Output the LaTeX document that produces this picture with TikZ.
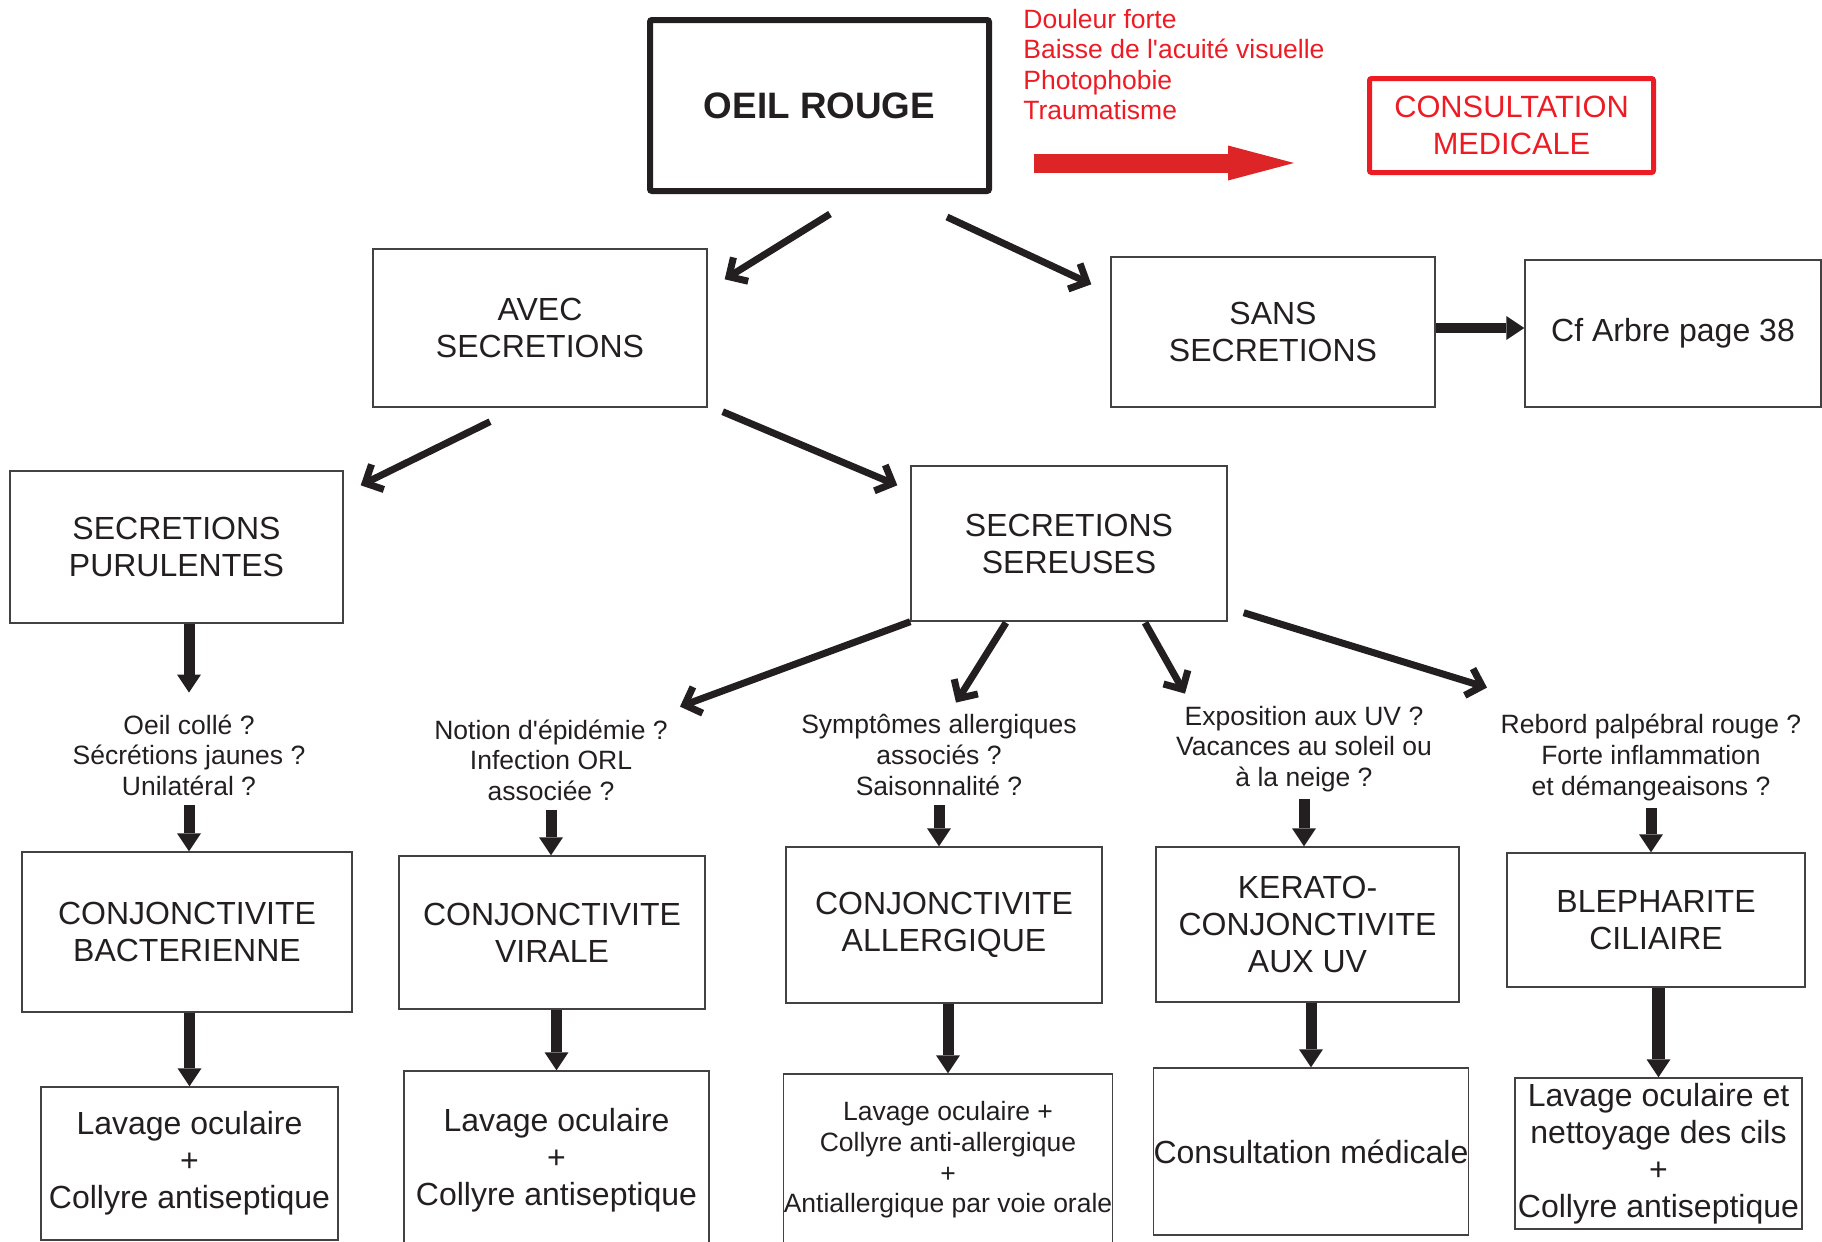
\documentclass[tikz,border=0pt]{standalone}
\usepackage{fontspec}
\setmainfont{Liberation Sans}
\usetikzlibrary{calc}
\usetikzlibrary{arrows.meta}
\definecolor[named]{EyeInk}{RGB}{35,31,32}
\definecolor[named]{EyeRed}{RGB}{237,28,36}
\definecolor[named]{EyeArrowRed}{RGB}{221,36,39}
\newcommand{\boxfont}{\fontsize{16}{18.5}\selectfont}
\newcommand{\askfont}{\fontsize{13.25}{15.3}\selectfont}
\newcommand{\apos}{\textquotesingle}
\tikzset{
  box/.style 2 args={draw=EyeInk!85,line width=0.7pt,text=EyeInk,
    minimum width=#1,minimum height=#2,inner sep=0pt,align=center,
    font=\boxfont},
  ask/.style={text=EyeInk,align=center,inner sep=0pt,
    minimum height=50pt,font=\askfont},
  branch/.style={draw=EyeInk,line width=3.5pt,
    -{Straight Barb[length=7pt,width=14pt,sharp]}},
  downarrow/.style={draw=EyeInk,line width=5.5pt,
    -{Triangle[length=9pt,width=12pt,line width=0pt]}},
}

\begin{document}
\begin{tikzpicture}[x=0.5pt,y=-0.5pt]
  \useasboundingbox (0,0) rectangle (1822,1242);

  % Top {{{
  \node[box={169.5pt}{85.5pt},line width=3pt,draw=EyeInk,rounded corners=1pt,
    font=\fontsize{18.4}{22}\selectfont\bfseries] (oeil) at (819.5,105.5) {OEIL ROUGE};
  \node[anchor=west,align=left,inner sep=0pt,text=EyeRed,font=\askfont]
    (signes) at (1023,64.5)
    {Douleur forte\\Baisse de l\apos acuité visuelle\\Photophobie\\Traumatisme};
  \node[box={142pt}{47pt},line width=2.5pt,draw=EyeRed,text=EyeRed,rounded corners=1pt,
    font=\fontsize{15.4}{18.5}\selectfont] (consult) at (1511.5,125.5) {CONSULTATION\\MEDICALE};
  \draw[EyeArrowRed,line width=9.5pt,-{Triangle[length=33pt,width=17.5pt,line width=0pt]}]
    ($(oeil.east)+(42,57.5)$) -- ($(consult.west)+(-73,37.5)$);
  % }}}

  % Secretions {{{
  \node[box={167pt}{79pt}] (avec) at (540,328) {AVEC\\SECRETIONS};
  \node[box={162pt}{75pt}] (sans) at (1273,332) {SANS\\SECRETIONS};
  \node[box={148pt}{73.5pt}] (cf) at (1673,333.5) {Cf Arbre page 38};
  \node[box={166.5pt}{76pt}] (purul) at (176.5,547) {SECRETIONS\\PURULENTES};
  \node[box={158pt}{77.5pt}] (sereuses) at (1069,543.5) {SECRETIONS\\SEREUSES};
  % }}}

  % Questions {{{
  \node[ask] (q1) at (189,755) {Oeil collé ?\\Sécrétions jaunes ?\\Unilatéral ?};
  \node[ask] (q2) at (551,760) {Notion d\apos épidémie ?\\Infection ORL\\associée ?};
  \node[ask] (q3) at (939,755) {Symptômes allergiques\\associés ?\\Saisonnalité ?};
  \node[ask] (q4) at (1304,749) {Exposition aux UV ?\\Vacances au soleil ou\\à la neige ?};
  \node[ask] (q5) at (1651,757.5) {Rebord palpébral rouge ?\\Forte inflammation\\et démangeaisons ?};
  % }}}

  % Diagnoses and treatments {{{
  \node[box={165pt}{80pt}] (bact) at (187,932) {CONJONCTIVITE\\BACTERIENNE};
  \node[box={153pt}{76.5pt}] (virale) at (552,932.5) {CONJONCTIVITE\\VIRALE};
  \node[box={158pt}{78pt}] (allerg) at (944,925) {CONJONCTIVITE\\ALLERGIQUE};
  \node[box={151.5pt}{77.5pt}] (kerato) at (1307.5,924.5) {KERATO-\\CONJONCTIVITE\\AUX UV};
  \node[box={149pt}{67pt}] (bleph) at (1656,920) {BLEPHARITE\\CILIAIRE};

  \node[box={148.5pt}{76.5pt}] (soin1) at (189.5,1163.5) {Lavage oculaire\\+\\Collyre antiseptique};
  \node[box={152.5pt}{89.5pt}] (soin2) at (556.5,1160.5) {Lavage oculaire\\+\\Collyre antiseptique};
  \node[box={164pt}{86pt},font=\askfont] (soin3) at (948,1160)
    {Lavage oculaire +\\Collyre anti-allergique\\+\\Antiallergique par voie orale};
  \node[box={155pt}{83.5pt}] (soin4) at (1311,1151.5) {Consultation médicale};
  \node[box={143.5pt}{75.5pt}] (soin5) at (1658.5,1153.5)
    {Lavage oculaire et\\nettoyage des cils\\+\\Collyre antiseptique};
  % }}}

  % Arrows {{{
  \draw[branch] ($(oeil.south)+(10.5,20)$) -- ($(avec.north east)+(17,31)$);
  \draw[branch] ($(oeil.south)+(127.5,23)$) -- ($(sans.north west)+(-19,28)$);
  \draw[branch] ($(avec.south)+(-50,14)$) -- ($(purul.north east)+(17,15)$);
  \draw[branch] ($(avec.south east)+(15,4)$) -- ($(sereuses.north west)+(-13,20)$);
  \draw[branch] (sereuses.south west) -- ($(q2.north)+(129,-3)$);
  \draw[branch] ($(sereuses.south)+(-63,1)$) -- ($(q3.north)+(17,-2)$);
  \draw[branch] ($(sereuses.south)+(76,1)$) -- ($(q4.north)+(-119,-5)$);
  \draw[branch] ($(sereuses.south east)+(16,-9)$) -- ($(q5.north)+(-164,-19.5)$);

  \draw[downarrow,line width=5pt] ([yshift=2pt]sans.east) -- ([yshift=2pt]sans.east -| cf.west);
  \draw[downarrow,shorten >=6pt] (purul.south -| q1.north) -- (q1.north);
  \draw[downarrow] (q1.south) -- (q1.south |- bact.north);
  \draw[downarrow] (q2.south) -- (q2.south |- virale.north);
  \draw[downarrow] (q3.south) -- (q3.south |- allerg.north);
  \draw[downarrow] (q4.south) -- (q4.south |- kerato.north);
  \draw[downarrow] (q5.south) -- (q5.south |- bleph.north);

  \draw[downarrow] (bact.south -| soin1.north) -- (soin1.north);
  \draw[downarrow] (virale.south -| soin2.north) -- (soin2.north);
  \draw[downarrow] (allerg.south -| soin3.north) -- (soin3.north);
  \draw[downarrow] (kerato.south -| soin4.north) -- (soin4.north);
  \draw[downarrow,line width=6.5pt] (bleph.south -| soin5.north) -- (soin5.north);
  % }}}
\end{tikzpicture}
\end{document}
